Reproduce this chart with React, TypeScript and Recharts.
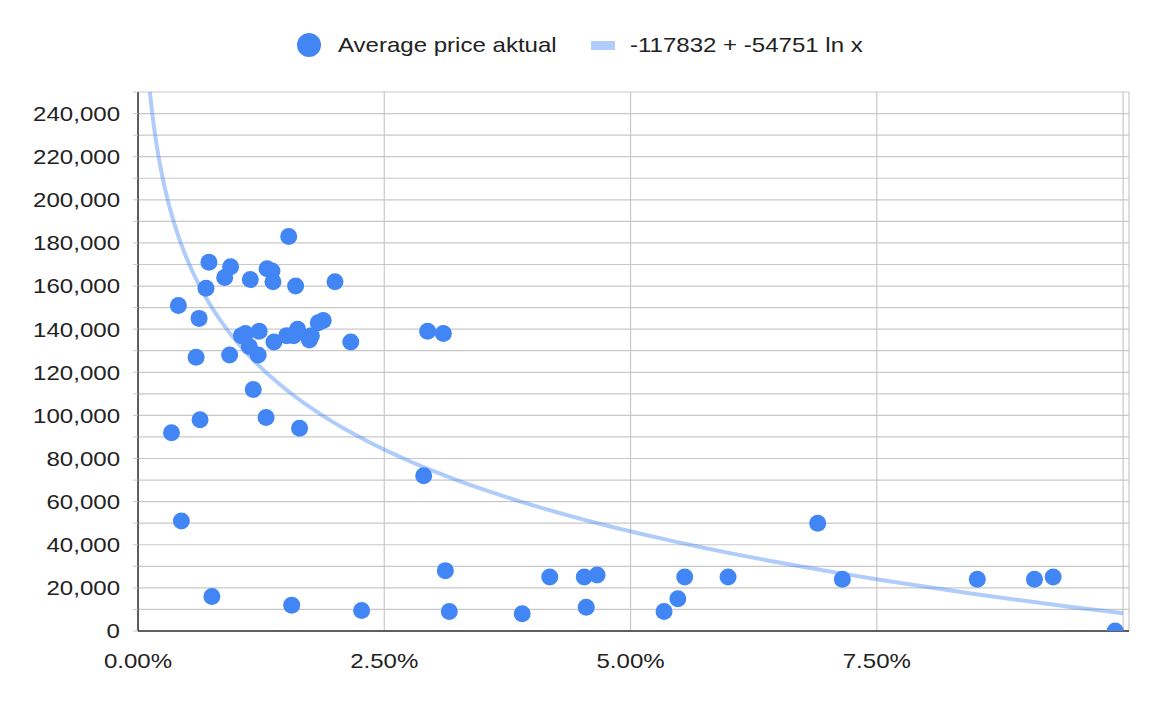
import { ScatterChart, Scatter, XAxis, YAxis, CartesianGrid, Legend } from 'recharts'

// interest rate (fraction) vs average price
const RATE = [
  0.0034, 0.0041, 0.0044, 0.0059, 0.0062, 0.0063, 0.0069, 0.0072, 0.0075, 0.0088,
  0.0093, 0.0094, 0.0105, 0.0109, 0.0113, 0.0114, 0.0117, 0.0122, 0.0123, 0.013,
  0.0131, 0.0136, 0.0137, 0.0138, 0.0151, 0.0153, 0.0156, 0.0158, 0.016, 0.0162,
  0.0164, 0.0174, 0.0176, 0.0183, 0.0188, 0.02, 0.0216, 0.0227, 0.029, 0.0294,
  0.031, 0.0312, 0.0316, 0.039, 0.0418, 0.0453, 0.0455, 0.0466, 0.0534, 0.0548,
  0.0555, 0.0599, 0.069, 0.0715, 0.0852, 0.091, 0.0929, 0.0992,
]
const PRICE = [
  92000, 151000, 51000, 127000, 145000, 98000, 159000, 171000, 16000, 164000,
  128000, 169000, 137000, 138000, 132000, 163000, 112000, 128000, 139000, 99000,
  168000, 167000, 162000, 134000, 137000, 183000, 12000, 137000, 160000, 140000,
  94000, 135000, 137000, 143000, 144000, 162000, 134000, 9500, 72000, 139000,
  138000, 28000, 9000, 8000, 25000, 25000, 11000, 26000, 9000, 15000,
  25000, 25000, 50000, 24000, 24000, 24000, 25000, 0,
]

const SERIES_NAME = 'Average price aktual'
// trendline from the legend: y = A + B ln x
const TREND_A = -117832
const TREND_B = -54751

const X_TICKS = [0, 0.025, 0.05, 0.075, 0.1]
const Y_TICKS = Array.from({ length: 26 }, (_, i) => i * 10000)

const BLUE = '#4285f4'
const TREND_COLOR = 'rgba(66,133,244,0.42)'
const FONT = '"Liberation Sans", Arial, sans-serif'
const STRETCH = 1.145

const points = RATE.map((x, i) => ({ x, y: PRICE[i] }))

const Y_MAX = 250000
const xStart = Math.exp((Y_MAX - TREND_A) / TREND_B)
const trend = Array.from({ length: 80 }, (_, i) => {
  const x = xStart * Math.pow(0.1 / xStart, i / 79)
  return { x, y: TREND_A + TREND_B * Math.log(x) }
})

const fmtNum = (v: number) => v.toLocaleString('en-US')
const fmtPct = (v: number) => (v * 100).toFixed(2) + '%'

function YTick({ x, y, payload }: any) {
  if (payload.value % 20000 !== 0) return <g />
  return (
    <g transform={`translate(${x},${y}) scale(${STRETCH},1)`}>
      <text textAnchor="end" dy="0.355em" fontSize={21} fill="#222" fontFamily={FONT}>
        {fmtNum(payload.value)}
      </text>
    </g>
  )
}

function XTick({ x, y, payload }: any) {
  if (payload.value >= 0.1) return <g />
  return (
    <g transform={`translate(${x},${y}) scale(${STRETCH},1)`}>
      <text textAnchor="middle" dy="0.71em" fontSize={21} fill="#222" fontFamily={FONT}>
        {fmtPct(payload.value)}
      </text>
    </g>
  )
}

function LegendContent() {
  return (
    <svg width={1163} height={40}>
      <circle cx={309} cy={20} r={12} fill={BLUE} />
      <g transform={`translate(338,20) scale(${STRETCH},1)`}>
        <text dy="0.355em" fontSize={21} fill="#222" fontFamily={FONT}>{SERIES_NAME}</text>
      </g>
      <rect x={591} y={16} width={24} height={9} fill={TREND_COLOR} />
      <g transform={`translate(630,20) scale(${STRETCH},1)`}>
        <text dy="0.355em" fontSize={21} fill="#222" fontFamily={FONT}>
          {`${TREND_A} + ${TREND_B} ln x`}
        </text>
      </g>
    </svg>
  )
}

export default function App() {
  return (
    <div style={{ position: 'absolute', left: 0, top: 0, background: '#fff' }}>
      <ScatterChart width={1163} height={704} margin={{ top: 92, right: 34, bottom: 43, left: 8 }}>
        <CartesianGrid stroke="#c8c8c8" strokeWidth={1.2} />
        <XAxis
          type="number"
          dataKey="x"
          domain={[0, 0.1006]}
          ticks={X_TICKS}
          interval={0}
          allowDataOverflow
          height={30}
          tickSize={0}
          tickMargin={22}
          tickLine={false}
          axisLine={{ stroke: '#333', strokeWidth: 1.5 }}
          tick={<XTick />}
        />
        <YAxis
          type="number"
          dataKey="y"
          domain={[0, Y_MAX]}
          ticks={Y_TICKS}
          interval={0}
          allowDataOverflow
          width={130}
          tickSize={5}
          tickMargin={13}
          tickLine={{ stroke: '#c8c8c8' }}
          axisLine={{ stroke: '#333', strokeWidth: 1.5 }}
          tick={<YTick />}
        />
        <Legend
          verticalAlign="middle"
          align="center"
          wrapperStyle={{ top: 25, left: 0, width: 1163 }}
          content={<LegendContent />}
        />
        <Scatter
          name={SERIES_NAME}
          data={points}
          fill={BLUE}
          isAnimationActive={false}
          shape={(p: any) => <circle cx={p.cx} cy={p.cy} r={8.5} fill={BLUE} />}
        />
        <Scatter
          name="trend"
          data={trend}
          line={{ stroke: TREND_COLOR, strokeWidth: 4 }}
          lineType="joint"
          isAnimationActive={false}
          shape={() => <g />}
        />
      </ScatterChart>
    </div>
  )
}
